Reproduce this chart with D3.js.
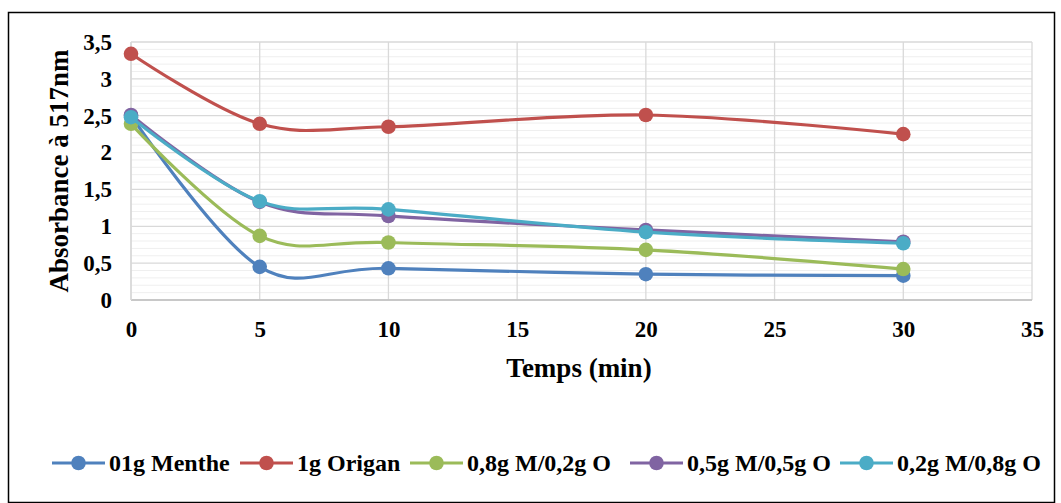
<!DOCTYPE html>
<html><head><meta charset="utf-8">
<script src="https://cdn.jsdelivr.net/npm/d3@7"></script>
<style>body{margin:0;background:#fff}svg{display:block}svg text{font-family:"Liberation Serif","Times New Roman",serif;font-weight:bold;fill:#000}</style>
</head><body>
<script>
const times = [0, 5, 10, 20, 30];
const seriesNames = ["01g Menthe", "1g Origan", "0,8g M/0,2g O", "0,5g M/0,5g O", "0,2g M/0,8g O"];
const menthe = [2.50, 0.45, 0.43, 0.35, 0.33];
const origan = [3.34, 2.39, 2.35, 2.51, 2.25];
const mix82 = [2.39, 0.87, 0.78, 0.68, 0.42];
const mix55 = [2.51, 1.33, 1.14, 0.95, 0.79];
const mix28 = [2.48, 1.34, 1.23, 0.92, 0.77];
const colors = ["#4f81bd", "#c0504d", "#9bbb59", "#8064a2", "#4bacc6"];
const xTicks = [0, 5, 10, 15, 20, 25, 30, 35];
const yTicks = [0, 0.5, 1, 1.5, 2, 2.5, 3, 3.5];
const yTickLabels = ["0", "0,5", "1", "1,5", "2", "2,5", "3", "3,5"];
const allSeries = [menthe, origan, mix82, mix55, mix28];

const W = 1061, H = 503;
const svg = d3.select("body").append("svg").attr("width", W).attr("height", H);

svg.append("rect").attr("x", 8.5).attr("y", 12.5).attr("width", 1046).attr("height", 490)
  .attr("fill", "#fff").attr("stroke", "#000").attr("stroke-width", 1.5);

const x = d3.scaleLinear().domain([0, 35]).range([131, 1032]);
const y = d3.scaleLinear().domain([0, 3.5]).range([300, 42]);

const g = svg.append("g");
g.selectAll("line.minor").data(d3.range(0, 35).map(i => i * 0.1).filter(v => Math.round(v * 10) % 5 !== 0))
  .join("line").attr("x1", x(0)).attr("x2", x(35))
  .attr("y1", d => y(d)).attr("y2", d => y(d))
  .attr("stroke", "#efefef").attr("stroke-width", 1);
g.selectAll("line.hmaj").data(yTicks).join("line")
  .attr("x1", x(0)).attr("x2", x(35))
  .attr("y1", d => y(d)).attr("y2", d => y(d))
  .attr("stroke", "#d9d9d9").attr("stroke-width", 1.3);
g.selectAll("line.v").data(xTicks).join("line")
  .attr("x1", d => x(d)).attr("x2", d => x(d))
  .attr("y1", y(0)).attr("y2", y(3.5))
  .attr("stroke", "#d9d9d9").attr("stroke-width", 1.3);
g.append("line").attr("x1", x(0)).attr("x2", x(35)).attr("y1", y(0)).attr("y2", y(0))
  .attr("stroke", "#bfbfbf").attr("stroke-width", 1.5);
g.append("line").attr("x1", x(0)).attr("x2", x(0)).attr("y1", y(0)).attr("y2", y(3.5))
  .attr("stroke", "#d9d9d9").attr("stroke-width", 1.5);

const xAxis = d3.axisBottom(x).tickValues(xTicks).tickSize(0).tickPadding(0).tickFormat(d3.format("d"));
const xa = svg.append("g").attr("transform", `translate(0,${y(0) + 21})`).call(xAxis);
xa.select(".domain").remove();
xa.attr("font-family", null).attr("font-size", null);
xa.selectAll("text").attr("font-size", 23).attr("fill", "#000");

const yAxis = d3.axisLeft(y).tickValues(yTicks).tickSize(0).tickPadding(0).tickFormat((d, i) => yTickLabels[i]);
const ya = svg.append("g").attr("transform", `translate(${x(0) - 19},0)`).call(yAxis);
ya.select(".domain").remove();
ya.attr("font-family", null).attr("font-size", null);
ya.selectAll("text").attr("font-size", 23).attr("fill", "#000");

svg.append("text").attr("x", 579).attr("y", 377).attr("text-anchor", "middle")
  .attr("font-size", 27).text("Temps (min)");
svg.append("text").attr("transform", `translate(68,171) rotate(-90)`).attr("text-anchor", "middle")
  .attr("font-size", 27).text("Absorbance à 517nm");

const line = d3.line().x(d => x(d[0])).y(d => y(d[1])).curve(d3.curveCardinal.tension(0));
allSeries.forEach((vals, i) => {
  const pts = times.map((t, j) => [t, vals[j]]);
  svg.append("path").datum(pts).attr("d", line).attr("fill", "none")
    .attr("stroke", colors[i]).attr("stroke-width", 3.2);
  svg.selectAll(null).data(pts).join("circle")
    .attr("cx", d => x(d[0])).attr("cy", d => y(d[1])).attr("r", 7.3)
    .attr("fill", colors[i]);
});

const legendX = [52, 240, 410, 630, 840];
const ly = 463;
seriesNames.forEach((name, i) => {
  const lg = svg.append("g").attr("transform", `translate(${legendX[i]},${ly})`);
  lg.append("line").attr("x1", 0).attr("x2", 53).attr("y1", 0).attr("y2", 0)
    .attr("stroke", colors[i]).attr("stroke-width", 3.2);
  lg.append("circle").attr("cx", 26.5).attr("cy", 0).attr("r", 7.3).attr("fill", colors[i]);
  lg.append("text").attr("x", 57).attr("y", 8).attr("font-size", 24).text(name);
});
</script>
</body></html>
